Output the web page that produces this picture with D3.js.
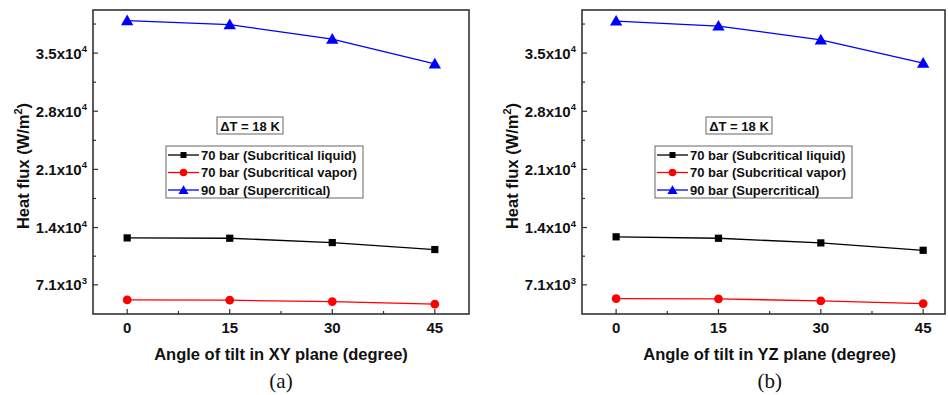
<!DOCTYPE html>
<meta charset="utf-8">
<style>
    body { margin: 0; background: #fff; }
    svg { font-family: "Liberation Sans", Arial, sans-serif; }
    .tick-label { font-size: 15px; font-weight: bold; fill: #111; }
    .axis-title { font-size: 16.5px; font-weight: bold; fill: #111; }
    .legend-text { font-size: 13px; font-weight: bold; fill: #111; }
    .panel-label { font-family: "Liberation Serif", "Times New Roman", serif; font-size: 21px; fill: #111; }
</style>
<svg width="948" height="395"></svg>
<script src="https://d3js.org/d3.v7.min.js"></script>
<script>

    // angles of tilt (degree)
    var angles = [0, 15, 30, 45];

    // heat flux (W/m2), panel (a) tilt in XY plane
    var xyLiquid = [12750, 12710, 12190, 11350];
    var xyVapor = [5290, 5250, 5080, 4770];
    var xySuper = [38900, 38420, 36690, 33710];

    // panel (b) tilt in YZ plane
    var yzLiquid = [12880, 12710, 12150, 11260];
    var yzVapor = [5450, 5410, 5170, 4840];
    var yzSuper = [38860, 38260, 36600, 33790];

    var seriesNames = ["70 bar (Subcritical liquid)", "70 bar (Subcritical vapor)", "90 bar (Supercritical)"];
    var seriesColors = ["#000000", "#ff0000", "#0000ff"];
    var seriesSymbols = [d3.symbolSquare, d3.symbolCircle, d3.symbolTriangle];

    var yTickValues = [7100, 14000, 21000, 28000, 35000];
    var yTickMantissa = ["7.1", "1.4", "2.1", "2.8", "3.5"];
    var yTickExp = ["3", "4", "4", "4", "4"];
    var yMinorTicks = [10550, 17500, 24500, 31500, 38500];
    var xMinorTicks = [7.5, 22.5, 37.5];

    var svg = d3.select("svg");

    function drawPanel(opt) {
        var x = d3.scaleLinear().domain(opt.xDomain).range([opt.left, opt.right]);
        var y = d3.scaleLinear().domain([3590, 40190]).range([314, 10]);
        var g = svg.append("g");

        // series lines and markers
        opt.series.forEach(function (vals, i) {
            var pts = angles.map(function (a, j) { return [a, vals[j]]; });
            g.append("path")
                .datum(pts)
                .attr("fill", "none")
                .attr("stroke", seriesColors[i])
                .attr("stroke-width", 1.3)
                .attr("d", d3.line().x(function (d) { return x(d[0]); }).y(function (d) { return y(d[1]); }));
            var size = i === 0 ? 52 : (i === 1 ? 60 : 66);
            g.selectAll(null)
                .data(pts)
                .enter().append("path")
                .attr("transform", function (d) {
                    return "translate(" + x(d[0]) + "," + (y(d[1]) + (i === 2 ? 1 : 0)) + ")";
                })
                .attr("fill", seriesColors[i])
                .attr("d", d3.symbol().type(seriesSymbols[i]).size(size));
        });

        // frame
        g.append("rect")
            .attr("x", opt.left).attr("y", 10)
            .attr("width", opt.right - opt.left).attr("height", 304)
            .attr("fill", "none").attr("stroke", "#333").attr("stroke-width", 1.6);

        // y ticks (inward)
        g.selectAll(null).data(yTickValues).enter().append("line")
            .attr("x1", opt.left).attr("x2", opt.left + 5)
            .attr("y1", function (d) { return y(d); }).attr("y2", function (d) { return y(d); })
            .attr("stroke", "#333").attr("stroke-width", 1.2);
        g.selectAll(null).data(yMinorTicks).enter().append("line")
            .attr("x1", opt.left).attr("x2", opt.left + 3)
            .attr("y1", function (d) { return y(d); }).attr("y2", function (d) { return y(d); })
            .attr("stroke", "#333").attr("stroke-width", 1.2);
        var yl = g.selectAll(null).data(yTickValues).enter().append("text")
            .attr("class", "tick-label")
            .attr("x", opt.left - 6)
            .attr("y", function (d) { return y(d) + 5.5; })
            .attr("text-anchor", "end");
        yl.append("tspan").text(function (d, i) { return yTickMantissa[i] + "x10"; });
        yl.append("tspan").attr("dy", -6.5).style("font-size", "9.5px").text(function (d, i) { return yTickExp[i]; });

        // x ticks (inward)
        g.selectAll(null).data(angles).enter().append("line")
            .attr("x1", function (d) { return x(d); }).attr("x2", function (d) { return x(d); })
            .attr("y1", 314).attr("y2", 309)
            .attr("stroke", "#333").attr("stroke-width", 1.2);
        g.selectAll(null).data(xMinorTicks).enter().append("line")
            .attr("x1", function (d) { return x(d); }).attr("x2", function (d) { return x(d); })
            .attr("y1", 314).attr("y2", 311)
            .attr("stroke", "#333").attr("stroke-width", 1.2);
        g.selectAll(null).data(angles).enter().append("text")
            .attr("class", "tick-label")
            .attr("x", function (d) { return x(d); })
            .attr("y", 333)
            .attr("text-anchor", "middle")
            .text(function (d) { return d; });

        // axis titles
        g.append("text").attr("class", "axis-title")
            .attr("x", (x(0) + x(45)) / 2).attr("y", 360)
            .attr("text-anchor", "middle")
            .text(opt.xTitle);
        var yt = g.append("text").attr("class", "axis-title")
            .attr("transform", "translate(" + (opt.left - 64) + ",166) rotate(-90)")
            .attr("text-anchor", "middle");
        yt.append("tspan").text("Heat flux (W/m");
        yt.append("tspan").attr("dy", -7).style("font-size", "11px").text("2");
        yt.append("tspan").attr("dy", 7).text(")");

        g.append("text").attr("class", "panel-label")
            .attr("x", (x(0) + x(45)) / 2).attr("y", 388)
            .attr("text-anchor", "middle")
            .text(opt.label);

        // annotation box
        var lx = opt.left + 73;
        g.append("rect").attr("x", lx + 51).attr("y", 117).attr("width", 66).attr("height", 17)
            .attr("fill", "#fff").attr("stroke", "#666").attr("stroke-width", 1);
        g.append("text").attr("class", "legend-text")
            .attr("x", lx + 84).attr("y", 130.5).attr("text-anchor", "middle")
            .text("\u0394T = 18 K");

        // legend
        g.append("rect").attr("x", lx).attr("y", 146).attr("width", 197).attr("height", 52)
            .attr("fill", "#fff").attr("stroke", "#666").attr("stroke-width", 1);
        seriesNames.forEach(function (name, i) {
            var ry = 155 + i * 17.5;
            g.append("line").attr("x1", lx + 2).attr("x2", lx + 33)
                .attr("y1", ry).attr("y2", ry)
                .attr("stroke", seriesColors[i]).attr("stroke-width", 1.3);
            g.append("path")
                .attr("transform", "translate(" + (lx + 17.5) + "," + (ry + (i === 2 ? 1 : 0)) + ")")
                .attr("fill", seriesColors[i])
                .attr("d", d3.symbol().type(seriesSymbols[i]).size(i === 0 ? 36 : 44));
            g.append("text").attr("class", "legend-text")
                .attr("x", lx + 35).attr("y", ry + 4.5)
                .text(name);
        });
    }

    drawPanel({
        left: 93, right: 469, xDomain: [-5, 50],
        series: [xyLiquid, xyVapor, xySuper],
        xTitle: "Angle of tilt in XY plane (degree)", label: "(a)"
    });
    drawPanel({
        left: 582, right: 945, xDomain: [-5, 48.2],
        series: [yzLiquid, yzVapor, yzSuper],
        xTitle: "Angle of tilt in YZ plane (degree)", label: "(b)"
    });
</script>
